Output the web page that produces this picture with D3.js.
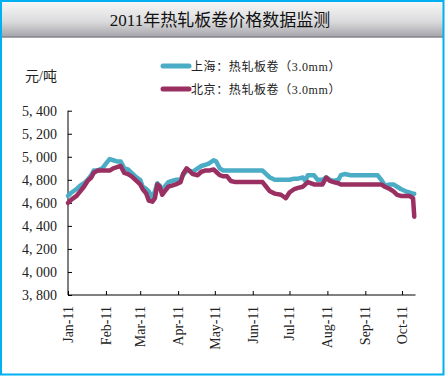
<!DOCTYPE html>
<html>
<head>
	<meta charset="utf-8">
	<title>2011年热轧板卷价格数据监测</title>
	<script src="https://cdn.jsdelivr.net/npm/d3@7"></script>
	<style>
		body { margin: 0; background: #fff; }
		text { font-family: "Liberation Serif", "Noto Sans CJK SC", serif; fill: #222; }
		.axis path, .axis line { stroke: #000; }
	</style>
</head>
<body>
<script>

var dates = ["2011-01-01","2011-01-04","2011-01-08","2011-01-11","2011-01-14","2011-01-17","2011-01-20","2011-01-22",
  "2011-01-25","2011-01-29","2011-02-01","2011-02-04","2011-02-07","2011-02-10","2011-02-13","2011-02-16",
  "2011-02-19","2011-02-22","2011-02-26","2011-03-01","2011-03-03","2011-03-06","2011-03-08","2011-03-11",
  "2011-03-13","2011-03-15","2011-03-17","2011-03-19","2011-03-21","2011-03-24","2011-03-27","2011-03-30",
  "2011-04-03","2011-04-05","2011-04-08","2011-04-10","2011-04-13","2011-04-17","2011-04-20","2011-04-23",
  "2011-04-26","2011-04-30","2011-05-02","2011-05-05","2011-05-08","2011-05-11","2011-05-14","2011-05-18",
  "2011-05-26","2011-06-03","2011-06-09","2011-06-12","2011-06-15","2011-06-19","2011-06-24","2011-06-28",
  "2011-07-01","2011-07-05","2011-07-08","2011-07-12","2011-07-14","2011-07-16","2011-07-21","2011-07-24",
  "2011-07-28","2011-07-31","2011-08-03","2011-08-06","2011-08-10","2011-08-12","2011-08-15","2011-08-20",
  "2011-08-28","2011-09-05","2011-09-11","2011-09-14","2011-09-17","2011-09-21","2011-09-24","2011-09-27",
  "2011-09-30","2011-10-04","2011-10-07","2011-10-10","2011-10-11"];

var shanghai = [4660,4690,4720,4750,4770,4800,4840,4880,
  4880,4900,4940,4980,4970,4960,4960,4900,
  4890,4860,4820,4800,4740,4720,4700,4640,
  4700,4770,4750,4700,4740,4780,4790,4800,
  4800,4840,4880,4880,4870,4900,4920,4930,
  4940,4970,4960,4900,4880,4880,4880,4880,
  4880,4880,4880,4850,4820,4800,4800,4800,
  4800,4810,4810,4820,4790,4840,4840,4800,
  4800,4820,4800,4790,4800,4840,4850,4840,
  4840,4840,4840,4800,4750,4760,4760,4740,
  4720,4700,4690,4680,4680];

var beijing = [4600,4630,4660,4700,4740,4790,4820,4860,
  4880,4880,4880,4880,4900,4910,4920,4860,
  4850,4830,4790,4760,4720,4680,4620,4610,
  4640,4760,4740,4670,4700,4740,4750,4760,
  4780,4850,4900,4880,4850,4840,4870,4880,
  4880,4890,4870,4840,4830,4830,4790,4780,
  4780,4780,4780,4740,4700,4680,4670,4640,
  4690,4720,4730,4740,4760,4780,4760,4760,
  4760,4820,4790,4780,4770,4760,4760,4760,
  4760,4760,4760,4760,4740,4720,4700,4670,
  4660,4660,4660,4640,4480];

var yTicks = [3800,4000,4200,4400,4600,4800,5000,5200,5400];
var monthTicks = ["2011-01-01","2011-02-01","2011-03-01","2011-04-01","2011-05-01",
  "2011-06-01","2011-07-01","2011-08-01","2011-09-01","2011-10-01"];
var seriesNames = ["上海：热轧板卷（3.0mm）", "北京：热轧板卷（3.0mm）"];
var seriesColors = ["#4bacc6", "#9a2f62"];

var width = 445, height = 376;
var parse = d3.timeParse("%Y-%m-%d");

var svg = d3.select("body").append("svg")
    .attr("width", width)
    .attr("height", height);

// title bar gradient
var defs = svg.append("defs");
var grad = defs.append("linearGradient")
    .attr("id", "titleGrad")
    .attr("x1", 0).attr("y1", 0).attr("x2", 0).attr("y2", 1);
grad.append("stop").attr("offset", "0%").attr("stop-color", "#f6f6f6");
grad.append("stop").attr("offset", "55%").attr("stop-color", "#dcdcde");
grad.append("stop").attr("offset", "100%").attr("stop-color", "#a4a4aa");

svg.append("rect")
    .attr("x", 2).attr("y", 2)
    .attr("width", width - 4).attr("height", 35)
    .style("fill", "url(#titleGrad)");
svg.append("line")
    .attr("x1", 2).attr("x2", width - 2)
    .attr("y1", 37).attr("y2", 37)
    .style("stroke", "#85858c").style("stroke-width", 1.5);

svg.append("text")
    .attr("x", 220).attr("y", 26)
    .attr("text-anchor", "middle")
    .style("font-size", "17px")
    .style("fill", "#111")
    .text("2011年热轧板卷价格数据监测");

// outer border
svg.append("rect")
    .attr("x", 1).attr("y", 1)
    .attr("width", width - 2.5).attr("height", height - 2.5)
    .style("fill", "none")
    .style("stroke", "#00b0f0")
    .style("stroke-width", 2);

var x = d3.scaleTime()
    .domain([parse("2011-01-01"), parse("2011-10-12")])
    .range([68, 415.5]);

var y = d3.scaleLinear()
    .domain([3800, 5400])
    .range([295, 110.7]);

// y axis
var yAxis = svg.append("g")
    .attr("class", "axis")
    .attr("transform", "translate(68,0)")
    .call(d3.axisRight(y).tickValues(yTicks).tickSize(4).tickFormat(""));
yAxis.select(".domain").attr("d", "M0," + y(5400) + "V" + y(3800));

svg.selectAll(".ylab")
    .data(yTicks)
  .enter().append("text")
    .attr("class", "ylab")
    .attr("x", 57)
    .attr("y", function(d) { return y(d) + 5; })
    .attr("text-anchor", "end")
    .style("font-size", "14px")
    .text(function(d) { return d3.format(",")(d).replace(",", ", "); });

// x axis
var xAxis = svg.append("g")
    .attr("class", "axis")
    .attr("transform", "translate(0,295)")
    .call(d3.axisTop(x).tickValues(monthTicks.map(parse)).tickSize(4).tickFormat(""));
xAxis.select(".domain").attr("d", "M68,0H415.5");
xAxis.selectAll("line").style("stroke-width", 1);

svg.selectAll(".xlab")
    .data(monthTicks)
  .enter().append("text")
    .attr("class", "xlab")
    .attr("transform", function(d) { return "translate(" + (x(parse(d)) + 5) + ",306) rotate(-90)"; })
    .attr("text-anchor", "end")
    .style("font-size", "14px")
    .text(function(d) { return d3.timeFormat("%b-%y")(parse(d)); });

// unit
svg.append("text")
    .attr("x", 25).attr("y", 81)
    .style("font-size", "14px")
    .text("元/吨");

// lines
var line = d3.line()
    .x(function(d) { return x(d.date); })
    .y(function(d) { return y(d.value); });

[shanghai, beijing].forEach(function(vals, i) {
  var pts = dates.map(function(d, j) { return { date: parse(d), value: vals[j] }; });
  svg.append("path")
      .datum(pts)
      .attr("d", line)
      .style("fill", "none")
      .style("stroke", seriesColors[i])
      .style("stroke-width", 4.5)
      .style("stroke-linejoin", "round")
      .style("stroke-linecap", "round");
});

// legend
var legend = svg.selectAll(".legend")
    .data(seriesNames)
  .enter().append("g")
    .attr("class", "legend")
    .attr("transform", function(d, i) { return "translate(0," + (66 + i * 23) + ")"; });

legend.append("line")
    .attr("x1", 163).attr("x2", 189)
    .style("stroke", function(d, i) { return seriesColors[i]; })
    .style("stroke-width", 5)
    .style("stroke-linecap", "round");

legend.append("text")
    .attr("x", 191).attr("y", 5)
    .style("font-size", "12px")
    .style("letter-spacing", "0.6px")
    .text(function(d) { return d; });

</script>
</body>
</html>
